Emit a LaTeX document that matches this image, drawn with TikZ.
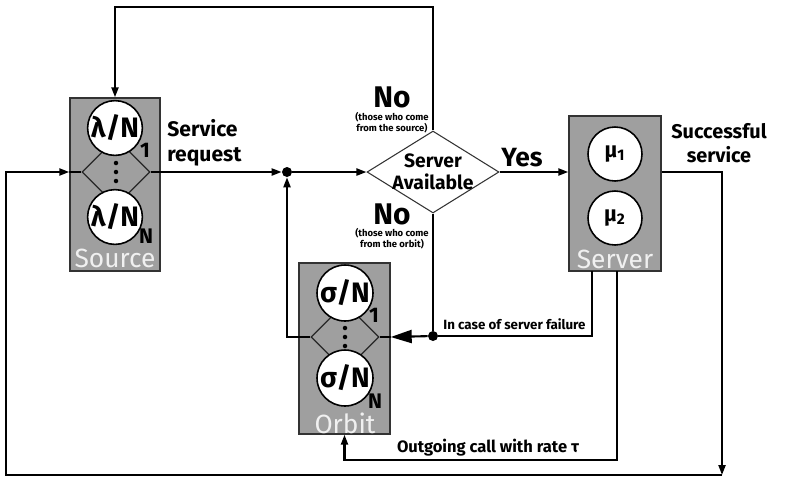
\documentclass[tikz,border=0pt]{standalone}
\usepackage{fontspec}
\setmainfont{Fira Sans}
\usepackage{tikz}
\usetikzlibrary{arrows.meta, positioning, shapes.geometric}

\begin{document}
\begin{tikzpicture}[
    x=0.02cm, y=-0.02cm,
    boxNode/.style={rectangle, fill=gray!75, draw=black!80, line width=0.8pt, inner sep=0pt},
    splitNode/.style={diamond, fill=gray!75, draw=black!85, line width=0.7pt, inner sep=0pt, minimum width=1.36cm, minimum height=1.36cm},
    rateNode/.style={circle, fill=white, draw=black, line width=0.9pt, inner sep=0pt, minimum size=1.0cm, font=\fontsize{16}{16}\selectfont\bfseries},
    idxNode/.style={font=\fontsize{12}{12}\selectfont\bfseries, inner sep=0pt},
    tagNode/.style={font=\fontsize{15}{15}\selectfont, text=gray!12, inner sep=0pt},
    textNode/.style={font=\fontsize{12}{14}\selectfont\bfseries, align=left, inner sep=0pt},
    noNode/.style={font=\fontsize{17}{17}\selectfont\bfseries, inner sep=0pt},
    noteNode/.style={font=\fontsize{5.4}{6.2}\selectfont\bfseries, align=center, inner sep=0pt},
    dotNode/.style={circle, fill=black, inner sep=0pt, minimum size=0.2cm},
    flowArrow/.style={-{Triangle[length=0.2cm, width=0.14cm]}, line width=1.2pt},
    bigArrow/.style={-{Triangle[length=0.42cm, width=0.26cm]}, line width=1.2pt},
    wire/.style={line width=1.2pt}
]
    \useasboundingbox (0,0) rectangle (787,478);

    % Source
    \node[boxNode, minimum width=1.8cm, minimum height=3.46cm] (srcBox) at (115,184.5) {};
    \node[splitNode] (srcDia) at (116,172) {};
    \foreach \dy in {-9,0,9} \fill (116,172+\dy) circle (0.045cm);
    \node[rateNode] (lamTop) at (115,128) {λ/N};
    \node[rateNode] (lamBot) at (115,217) {λ/N};
    \node[idxNode] (lamOne) at (145,150) {1};
    \node[idxNode] (lamN) at (146,236) {N};
    \node[tagNode] (srcTag) at (115,258) {Source};

    % Orbit
    \node[boxNode, minimum width=1.82cm, minimum height=3.42cm] (orbBox) at (344.5,348.5) {};
    \node[splitNode] (orbDia) at (345,337) {};
    \foreach \dy in {-9,0,9} \fill (345,337+\dy) circle (0.045cm);
    \node[rateNode, minimum size=1.04cm] (sigTop) at (345,293) {σ/N};
    \node[rateNode, minimum size=1.04cm] (sigBot) at (345,378) {σ/N};
    \node[idxNode] (sigOne) at (374,315) {1};
    \node[idxNode] (sigN) at (375,401) {N};
    \node[tagNode] (orbTag) at (345,423) {Orbit};

    % Server
    \node[boxNode, minimum width=1.84cm, minimum height=3.1cm] (srvBox) at (615,193.5) {};
    \node[rateNode, minimum size=1.08cm, font=\fontsize{12.5}{12.5}\selectfont\bfseries] (muOne) at (615,154) {μ\textsubscript{1}};
    \node[rateNode, minimum size=1.08cm, font=\fontsize{12.5}{12.5}\selectfont\bfseries] (muTwo) at (615,218) {μ\textsubscript{2}};
    \node[tagNode] (srvTag) at (615,259) {Server};

    % Decision
    \node[diamond, draw=black!80, fill=white, line width=0.6pt, inner sep=0pt, minimum width=2.64cm, minimum height=1.64cm] (availDia) at (433,172) {};
    \node[font=\fontsize{11}{12.5}\selectfont\bfseries, align=center, inner sep=0pt] (availTxt) at (433,172) {Server\\Available};

    % Labels
    \node[textNode, anchor=west] (reqTxt) at (167,143) {Service\\request};
    \node[textNode, font=\fontsize{11.3}{14}\selectfont\bfseries, align=center] (succTxt) at (719,143) {Successful\\service};
    \node[textNode, font=\fontsize{15}{15}\selectfont\bfseries] (yesTxt) at (522,158) {Yes};
    \node[noNode] (noTop) at (392,97) {No};
    \node[noteNode] (noTopNote) at (392,123) {(those who come\\from the source)};
    \node[noNode] (noBot) at (392,214) {No};
    \node[noteNode] (noBotNote) at (392,239) {(those who come\\from the orbit)};
    \node[textNode, font=\fontsize{7.6}{8}\selectfont\bfseries, anchor=west] (failTxt) at (443,324) {In case of server failure};
    \node[textNode, font=\fontsize{9.4}{10}\selectfont\bfseries] (callTxt) at (488,448) {Outgoing call with rate τ};

    % Junctions and corners
    \node[dotNode] (joinDot) at (287,172) {};
    \node[dotNode] (failDot) at (433,336) {};
    \coordinate (topRight) at (433,7);
    \coordinate (botRight) at (722,475);
    \coordinate (botLeft) at (6,475);
    \coordinate (failOut) at (592,271);
    \coordinate (callOut) at (617,271);
    \coordinate (callLow) at (617,460);

    % Flow
    \draw[flowArrow] (srcDia.east) -- (joinDot);
    \draw[flowArrow] (joinDot) -- (availDia.west);
    \draw[flowArrow] (orbDia.west) -| (joinDot);
    \draw[flowArrow] (availDia.north) -- (topRight) -| (srcBox.north);
    \draw[flowArrow] (availDia.east) -- (availDia.east -| srvBox.west);
    \draw[flowArrow] (srvBox.east |- availDia.east) -| (botRight);
    \draw[flowArrow] (botRight) -- (botLeft) |- (srcBox.west |- srcDia.west);
    \draw[wire] (srcBox.west |- srcDia.west) -- (srcDia.west);

    % Server failure and outgoing calls
    \draw[wire] (availDia.south) -- (failDot);
    \draw[wire] (failOut) |- (failDot);
    \draw[bigArrow] (failDot) -- (orbBox.east |- orbDia.east);
    \draw[wire] (orbBox.east |- orbDia.east) -- (orbDia.east);
    \draw[flowArrow] (callOut) -- (callLow) -| (orbBox.south);
\end{tikzpicture}
\end{document}
